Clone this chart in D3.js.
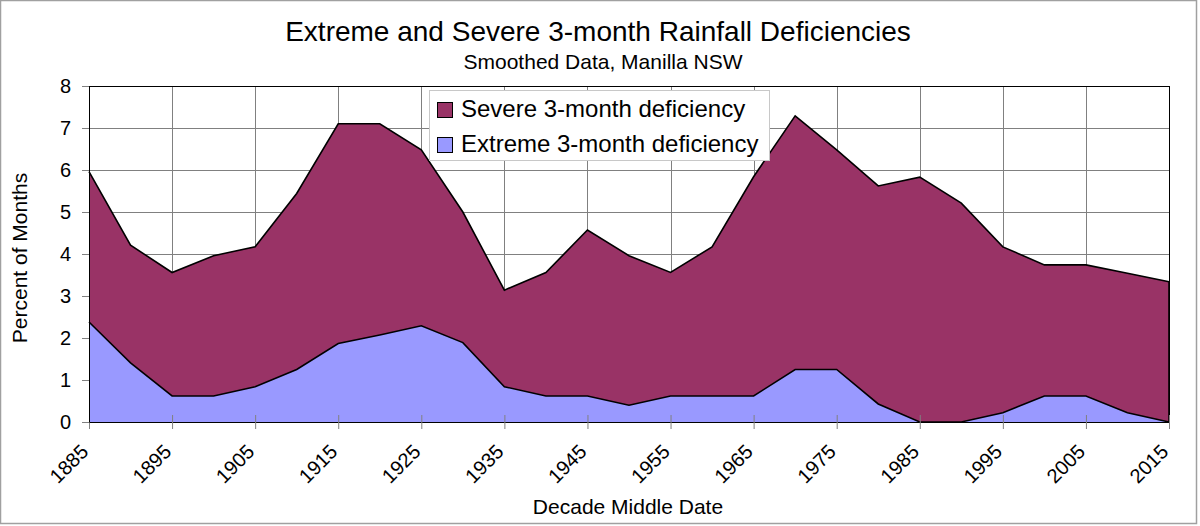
<!DOCTYPE html>
<html>
<head>
<meta charset="utf-8">
<script src="https://cdn.jsdelivr.net/npm/d3@7"></script>
<style>
  body { margin: 0; background: #fff; }
  text { font-family: "Liberation Sans", Arial, sans-serif; fill: #000; }
</style>
</head>
<body>
<div id="plot"></div>
<script>
// decade middle dates, every 5 years
const years = [1885, 1890, 1895, 1900, 1905, 1910, 1915, 1920, 1925, 1930,
  1935, 1940, 1945, 1950, 1955, 1960, 1965, 1970, 1975, 1980,
  1985, 1990, 1995, 2000, 2005, 2010, 2015];
const extreme = [2.38, 1.41, 0.62, 0.62, 0.84, 1.25, 1.87, 2.07, 2.29, 1.89,
  0.84, 0.62, 0.62, 0.40, 0.62, 0.62, 0.62, 1.25, 1.25, 0.43,
  0, 0, 0.22, 0.62, 0.62, 0.22, 0];
const severe = [3.58, 2.80, 2.94, 3.34, 3.33, 4.19, 5.23, 5.03, 4.19, 3.11,
  2.30, 2.94, 3.95, 3.56, 2.94, 3.55, 5.22, 6.04, 5.23, 5.19,
  5.83, 5.21, 3.95, 3.12, 3.12, 3.32, 3.34];
const xTicks = [1885, 1895, 1905, 1915, 1925, 1935, 1945, 1955, 1965, 1975, 1985, 1995, 2005, 2015];
const yTicks = [0, 1, 2, 3, 4, 5, 6, 7, 8];
const seriesNames = ["Severe 3-month deficiency", "Extreme 3-month deficiency"];

const w = 1200;
const h = 526;
const margin = {top: 86, right: 31, bottom: 104, left: 89};
const innerWidth = w - margin.left - margin.right;
const innerHeight = h - margin.top - margin.bottom;

const svg = d3.select("div#plot")
    .append("svg")
    .attr("width", w)
    .attr("height", h);

// outer frame
svg.append("rect")
    .attr("x", 0.5).attr("y", 0.5)
    .attr("width", 1196).attr("height", 523)
    .attr("fill", "#fff")
    .attr("stroke", "#a0a0a0")
    .attr("stroke-width", 1.5);

const xScale = d3.scaleLinear()
    .domain([1885, 2015])
    .range([0, innerWidth]);

const yScale = d3.scaleLinear()
    .domain([0, 8])
    .range([innerHeight, 0]);

const g = svg.append("g")
    .attr("transform", `translate(${margin.left}, ${margin.top})`);

// grid
g.append("g")
    .selectAll("line")
    .data(yTicks)
    .enter().append("line")
    .attr("x1", 0).attr("x2", innerWidth)
    .attr("y1", d => Math.round(yScale(d)) + 0.5)
    .attr("y2", d => Math.round(yScale(d)) + 0.5)
    .attr("stroke", "#808080");

g.append("g")
    .selectAll("line")
    .data(xTicks)
    .enter().append("line")
    .attr("x1", d => Math.round(xScale(d)) + 0.5)
    .attr("x2", d => Math.round(xScale(d)) + 0.5)
    .attr("y1", 0).attr("y2", innerHeight)
    .attr("stroke", "#808080");

// stacked areas
const table = years.map((y, i) => ({year: y, extreme: extreme[i], severe: severe[i]}));
const stacked = d3.stack().keys(["extreme", "severe"])(table);
const colors = {extreme: "#9999ff", severe: "#993366"};

const area = d3.area()
    .x(d => xScale(d.data.year))
    .y0(d => yScale(d[0]))
    .y1(d => yScale(d[1]));

const line = d3.line()
    .x(d => xScale(d.data.year))
    .y(d => yScale(d[1]));

g.selectAll("path.area")
    .data(stacked)
    .enter().append("path")
    .attr("class", "area")
    .attr("d", area)
    .attr("fill", d => colors[d.key]);

g.selectAll("path.edge")
    .data(stacked)
    .enter().append("path")
    .attr("class", "edge")
    .attr("d", line)
    .attr("fill", "none")
    .attr("stroke", "#000")
    .attr("stroke-width", 1.6);

// right edge of the areas
g.append("line")
    .attr("x1", innerWidth).attr("x2", innerWidth)
    .attr("y1", yScale(extreme[extreme.length - 1] + severe[severe.length - 1]))
    .attr("y2", innerHeight)
    .attr("stroke", "#000").attr("stroke-width", 1.6);

// plot border
g.append("rect")
    .attr("x", 0.5).attr("y", 0.5)
    .attr("width", innerWidth).attr("height", innerHeight)
    .attr("fill", "none")
    .attr("stroke", "#000");

// axes
const xAxis = d3.axisBottom(xScale)
    .tickValues(xTicks)
    .tickFormat(d3.format("d"))
    .tickSizeInner(7)
    .tickSizeOuter(0);

const xg = g.append("g")
    .attr("transform", `translate(0, ${innerHeight})`)
    .call(xAxis);
xg.select(".domain").attr("stroke", "#000");
xg.selectAll(".tick line").attr("stroke", "#808080").attr("y1", -7).attr("y2", 7);
xg.selectAll("text")
    .attr("font-size", 20)
    .attr("font-family", "Liberation Sans, Arial, sans-serif")
    .attr("fill", "#000")
    .attr("text-anchor", "end")
    .attr("x", 0).attr("y", 0).attr("dy", 0)
    .attr("transform", "translate(0, 31) rotate(-45)");

const yAxis = d3.axisLeft(yScale)
    .tickValues(yTicks)
    .tickSizeInner(7)
    .tickSizeOuter(0);

const yg = g.append("g").call(yAxis);
yg.select(".domain").attr("stroke", "#000");
yg.selectAll(".tick line").attr("stroke", "#808080");
yg.selectAll("text")
    .attr("font-size", 20)
    .attr("font-family", "Liberation Sans, Arial, sans-serif")
    .attr("fill", "#000")
    .attr("x", -18);

// titles
svg.append("text")
    .attr("x", 598).attr("y", 41)
    .attr("text-anchor", "middle")
    .attr("font-size", 28)
    .text("Extreme and Severe 3-month Rainfall Deficiencies");

svg.append("text")
    .attr("x", 603).attr("y", 69)
    .attr("text-anchor", "middle")
    .attr("font-size", 21)
    .text("Smoothed Data, Manilla NSW");

svg.append("text")
    .attr("x", 628).attr("y", 514)
    .attr("text-anchor", "middle")
    .attr("font-size", 21)
    .text("Decade Middle Date");

svg.append("text")
    .attr("transform", "translate(27, 258) rotate(-90)")
    .attr("text-anchor", "middle")
    .attr("font-size", 21)
    .text("Percent of Months");

// legend
const legend = svg.append("g").attr("transform", "translate(429, 90)");
legend.append("rect")
    .attr("x", 0.5).attr("y", 0.5)
    .attr("width", 340).attr("height", 70)
    .attr("fill", "#fff")
    .attr("stroke", "#c8c8c8");

const items = legend.selectAll("g.item")
    .data(seriesNames)
    .enter().append("g")
    .attr("class", "item")
    .attr("transform", (d, i) => `translate(0, ${i * 35})`);

items.append("rect")
    .attr("x", 8.5).attr("y", 12.5)
    .attr("width", 15).attr("height", 15)
    .attr("fill", (d, i) => i === 0 ? colors.severe : colors.extreme)
    .attr("stroke", "#000");

items.append("text")
    .attr("x", 32).attr("y", 27)
    .attr("font-size", 24)
    .text(d => d);
</script>
</body>
</html>
